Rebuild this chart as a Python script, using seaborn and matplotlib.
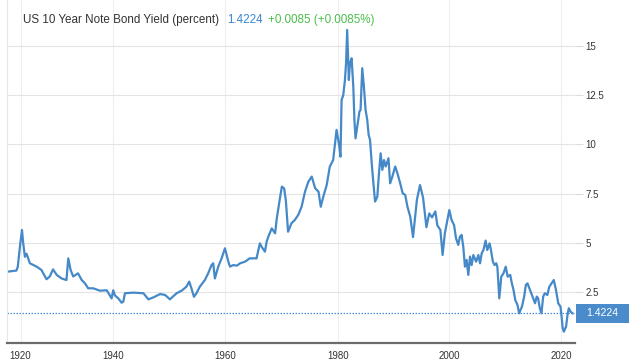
import numpy as np
import pandas as pd
import matplotlib
matplotlib.use('Agg')
import matplotlib.pyplot as plt
import matplotlib.transforms as mtransforms
from matplotlib.patches import Rectangle
import seaborn as sns

sns.set_theme(style='white')
plt.rcParams['font.family'] = ['Liberation Sans', 'DejaVu Sans']

# --- data (year, yield %) ---
years = [
    1917.0, 1919.1, 1919.4, 1919.85, 1920.3, 1920.56, 1920.93, 1921.3, 1922.0, 1923.46,
    1924.5, 1925.6, 1926.3, 1927.0, 1927.8, 1928.86, 1929.9, 1930.3, 1930.8, 1931.36,
    1932.4, 1933.2, 1933.9, 1934.6, 1935.7, 1937.1, 1938.6, 1939.65, 1940.0, 1940.3,
    1940.9, 1941.5, 1941.8, 1942.1, 1943.6, 1945.4, 1946.3, 1947.2, 1948.4, 1949.3,
    1950.15, 1951.35, 1952.25, 1953.1, 1953.6, 1954.0, 1954.45, 1954.9, 1955.5, 1956.4,
    1957.0, 1957.6, 1957.9, 1958.2, 1958.8, 1959.4, 1960.0, 1960.6, 1960.9, 1961.5,
    1962.1, 1962.7, 1963.55, 1964.4, 1965.6, 1966.2, 1966.5, 1967.1, 1967.4, 1967.7,
    1968.3, 1968.9, 1969.2, 1969.8, 1970.1, 1970.5, 1970.8, 1971.2, 1971.8, 1972.4,
    1973.0, 1973.6, 1974.2, 1974.8, 1975.4, 1976.0, 1976.6, 1977.0, 1977.45, 1978.05,
    1978.6, 1979.2, 1979.8, 1979.9, 1980.3, 1980.5, 1980.7, 1981.0, 1981.3, 1981.5,
    1981.7, 1982.0, 1982.2, 1982.5, 1982.8, 1983.0, 1983.2, 1983.5, 1983.9, 1984.1,
    1984.4, 1984.7, 1985.0, 1985.3, 1985.55, 1985.8, 1986.1, 1986.4, 1986.7, 1987.1,
    1987.4, 1987.7, 1988.0, 1988.3, 1988.6, 1989.1, 1989.4, 1989.8, 1990.3, 1990.7,
    1991.2, 1991.65, 1992.1, 1992.5, 1993.0, 1993.5, 1994.2, 1994.75, 1995.3, 1995.9,
    1996.4, 1996.9, 1997.5, 1997.85, 1998.4, 1998.8, 1999.2, 1999.6, 2000.0, 2000.4,
    2000.85, 2001.2, 2001.6, 2001.9, 2002.2, 2002.5, 2002.8, 2003.1, 2003.4, 2003.7,
    2004.0, 2004.3, 2004.8, 2005.2, 2005.5, 2005.8, 2006.1, 2006.5, 2006.8, 2007.2,
    2007.4, 2007.8, 2008.1, 2008.4, 2008.6, 2008.95, 2009.3, 2009.7, 2010.1, 2010.45,
    2010.9, 2011.2, 2011.5, 2011.8, 2012.2, 2012.5, 2013.0, 2013.4, 2013.7, 2014.0,
    2014.45, 2014.9, 2015.35, 2015.65, 2015.9, 2016.2, 2016.5, 2016.8, 2017.1, 2017.55,
    2017.9, 2018.3, 2018.7, 2019.1, 2019.5, 2019.9, 2020.1, 2020.3, 2020.5, 2020.9,
    2021.2, 2021.4, 2021.7, 2022.1,
]
yields = [
    3.54, 3.60, 3.80, 4.80, 5.66, 5.00, 4.30, 4.45, 3.97, 3.80,
    3.63, 3.16, 3.30, 3.66, 3.38, 3.20, 3.12, 4.22, 3.63, 3.30,
    3.46, 3.12, 2.95, 2.70, 2.70, 2.58, 2.60, 2.19, 2.60, 2.34,
    2.19, 1.97, 2.02, 2.45, 2.48, 2.45, 2.14, 2.24, 2.41, 2.36,
    2.14, 2.45, 2.58, 2.78, 3.04, 2.70, 2.27, 2.45, 2.78, 3.12,
    3.46, 3.88, 3.97, 3.20, 3.80, 4.22, 4.73, 4.05, 3.80, 3.88,
    3.85, 3.97, 4.05, 4.22, 4.22, 4.98, 4.81, 4.56, 5.07, 5.32,
    5.74, 5.49, 6.25, 7.35, 7.86, 7.77, 7.18, 5.57, 6.00, 6.17,
    6.42, 6.84, 7.60, 8.11, 8.37, 7.78, 7.60, 6.84, 7.35, 7.94,
    8.87, 9.21, 10.74, 10.57, 9.89, 9.38, 12.26, 12.50, 13.27, 14.12,
    15.81, 13.27, 14.12, 14.37, 12.93, 11.24, 10.31, 10.90, 11.67, 11.75,
    13.87, 12.93, 11.75, 11.24, 10.48, 10.23, 9.05, 8.03, 7.10, 7.35,
    8.54, 9.55, 8.71, 9.21, 8.88, 9.30, 8.03, 8.37, 8.88, 8.54,
    8.03, 7.52, 7.44, 6.84, 6.34, 5.30, 7.20, 7.94, 7.30, 5.80,
    6.50, 6.30, 6.60, 5.90, 5.66, 4.39, 5.49, 6.08, 6.67, 6.17,
    5.91, 5.24, 4.90, 5.32, 5.41, 4.81, 3.80, 4.14, 3.38, 4.31,
    3.88, 4.39, 4.05, 4.39, 3.97, 4.48, 4.64, 5.12, 4.64, 4.98,
    4.73, 4.05, 3.88, 3.97, 3.80, 2.19, 3.29, 3.46, 3.80, 3.29,
    3.38, 2.95, 2.61, 2.11, 1.86, 1.43, 1.77, 2.28, 2.87, 2.95,
    2.61, 2.28, 1.94, 2.28, 2.19, 1.69, 1.43, 2.28, 2.45, 2.36,
    2.78, 2.95, 3.12, 2.61, 1.94, 1.77, 1.26, 0.67, 0.50, 0.76,
    1.43, 1.69, 1.52, 1.42,
]
last_value = 1.4224
title_text = 'US 10 Year Note Bond Yield (percent)'
change_text = '+0.0085 (+0.0085%)'
year_ticks = [1920, 1940, 1960, 1980, 2000, 2020]
yield_ticks = [2.5, 5, 7.5, 10, 12.5, 15]

df = pd.DataFrame({'year': years, 'yield': yields})

# the source axis is not quite linear in time (1920-1940 is squeezed)
anchor_years = [1900, 1920, 1940, 1960, 1980, 2000, 2020, 2040]
anchor_pos = [-71.9, 20.7, 113.3, 225.0, 337.7, 449.3, 561.0, 672.7]


def fwd(x):
    return np.interp(x, anchor_years, anchor_pos)


def inv(p):
    return np.interp(p, anchor_pos, anchor_years)


line_color = '#4589c8'

fig = plt.figure(figsize=(6.3, 3.64), dpi=100)
ax = fig.add_axes([6.7 / 630, 1 - 342.5 / 364, (575 - 6.7) / 630, 342.5 / 364])
ax.set_xscale('function', functions=(fwd, inv))

sns.lineplot(data=df, x='year', y='yield', ax=ax, color=line_color, lw=1.6)

ax.set_xlim(1917.0, 2022.5)
ax.set_ylim(-0.05, 17.33)
ax.set_xticks(year_ticks)
ax.set_xticklabels([str(y) for y in year_ticks])
ax.set_yticks(yield_ticks)
ax.set_yticklabels(['{:g}'.format(v) for v in yield_ticks])
ax.set_xlabel('')
ax.set_ylabel('')

ax.yaxis.tick_right()
ax.tick_params(axis='y', right=True, length=5.8, width=0.8, color='#dcdcdc',
               labelsize=7, labelcolor='#333333', pad=1.5)
ax.tick_params(axis='x', bottom=True, length=0, labelsize=7,
               labelcolor='#333333', pad=6)

ax.yaxis.grid(True, color='#e4e4e4', lw=0.8)
ax.xaxis.grid(True, color='#eeeeee', lw=0.8)
ax.set_axisbelow(True)

for s in ['top', 'right']:
    ax.spines[s].set_visible(False)
ax.spines['left'].set_color('#e6e6e6')
ax.spines['left'].set_linewidth(0.8)
ax.spines['bottom'].set_color('#6b6b6b')
ax.spines['bottom'].set_linewidth(1.6)

# last value marker line and label box
ax.axhline(last_value, color='#4a90d8', lw=0.9, ls=(0, (1.2, 1.2)))
trans = mtransforms.blended_transform_factory(ax.transAxes, ax.transData)
box = Rectangle((1.002, last_value - 0.48), 0.093, 0.96, transform=trans,
                facecolor='#4a8ccb', edgecolor='none', clip_on=False)
ax.add_patch(box)
ax.text(1.0485, last_value, '{:.4f}'.format(last_value), transform=trans,
        ha='center', va='center', color='white', fontsize=7.5)

# header
fig.text(23 / 630, 1 - 20 / 364, title_text, ha='left', va='center',
         fontsize=8.4, color='#333333')
fig.text(227 / 630, 1 - 20 / 364, '{:.4f}'.format(last_value), ha='left',
         va='center', fontsize=8.4, color='#3a87d0')
fig.text(268 / 630, 1 - 20 / 364, change_text, ha='left', va='center',
         fontsize=8.4, color='#4cbf4c')

fig.savefig('out.png', dpi=100)
